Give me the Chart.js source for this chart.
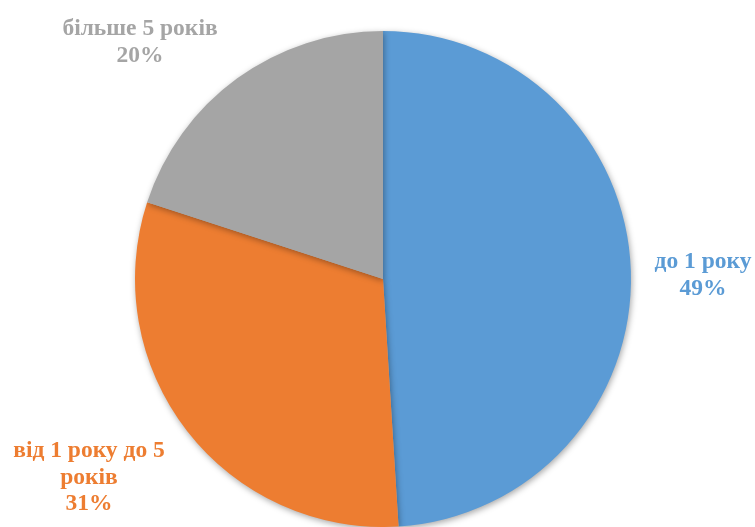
<!DOCTYPE html>
<html>
<head>
<meta charset="utf-8">
<script src="https://cdn.jsdelivr.net/npm/chart.js@4"></script>
<style>
  html, body { margin: 0; padding: 0; background: #fff; }
  #wrap { width: 755px; height: 527px; }
</style>
</head>
<body>
<div id="wrap"><canvas id="pie" width="755" height="527"></canvas></div>
<script>
const categories = ["до 1 року", "від 1 року до 5 років", "більше 5 років"];
const shares = [49, 31, 20];
const labelLines = [["до 1 року"], ["від 1 року до 5", "років"], ["більше 5 років"]];
const colors = ["#5B9BD5", "#ED7D31", "#A5A5A5"];

// label anchors (canvas px), one per slice
const labelPos = [
  { x: 703, y: 262 },
  { x: 89, y: 451 },
  { x: 140, y: 29 }
];

const sliceShadow = {
  id: "sliceShadow",
  beforeDatasetDraw(chart) {
    const ctx = chart.ctx;
    ctx.save();
    ctx.shadowColor = "rgba(0,0,0,0.35)";
    ctx.shadowBlur = 6;
    ctx.shadowOffsetX = 1;
    ctx.shadowOffsetY = 2;
  },
  afterDatasetDraw(chart) {
    chart.ctx.restore();
  }
};

const outsideLabels = {
  id: "outsideLabels",
  afterDraw(chart) {
    const ctx = chart.ctx;
    ctx.save();
    ctx.font = "bold 23.5px 'Liberation Serif', 'Times New Roman', serif";
    ctx.textAlign = "center";
    ctx.textBaseline = "middle";
    shares.forEach((v, i) => {
      const lines = labelLines[i].concat([v + "%"]);
      ctx.fillStyle = colors[i];
      lines.forEach((t, k) => {
        ctx.fillText(t, labelPos[i].x, labelPos[i].y + k * 26.5);
      });
    });
    ctx.restore();
  }
};

new Chart(document.getElementById("pie").getContext("2d"), {
  type: "pie",
  data: {
    labels: categories,
    datasets: [
      {
        data: shares,
        backgroundColor: colors,
        borderWidth: 0
      }
    ]
  },
  options: {
    responsive: false,
    animation: false,
    layout: {
      padding: { left: 135, right: 124, top: 31, bottom: 0 }
    },
    plugins: {
      legend: { display: false },
      tooltip: { enabled: false }
    }
  },
  plugins: [sliceShadow, outsideLabels]
});
</script>
</body>
</html>
